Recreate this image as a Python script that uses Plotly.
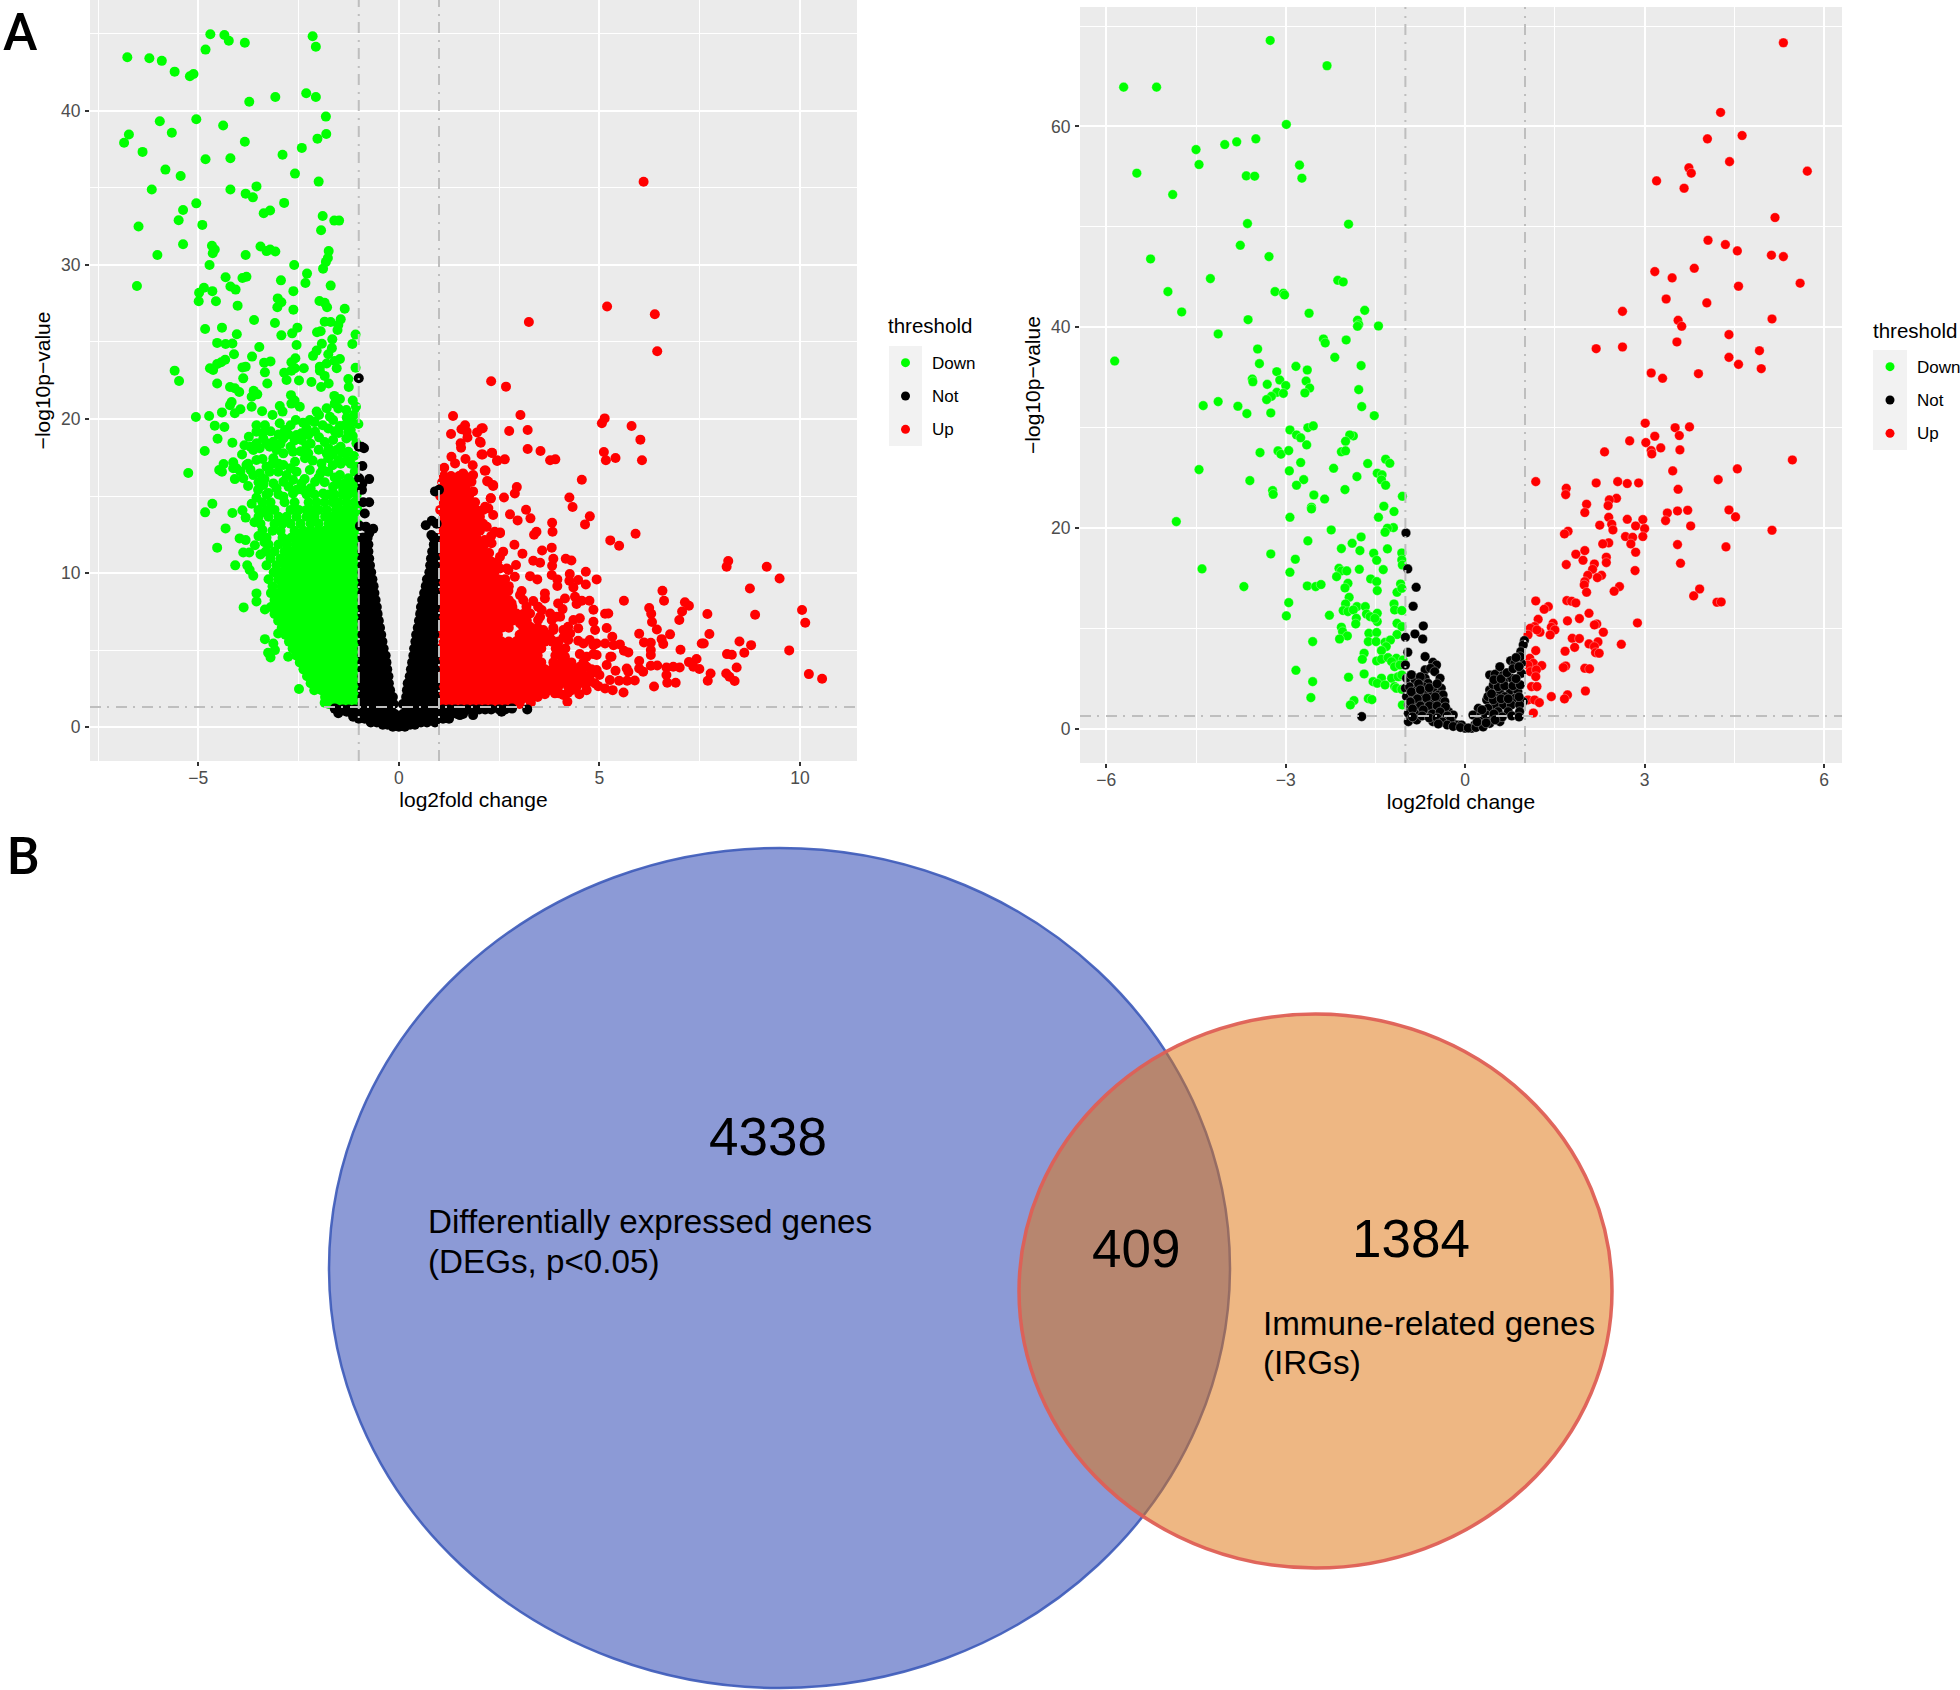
import plotly.graph_objects as go

levels = ["Down", "Not", "Up"]
level_colors = {"Down": "#00FF00", "Not": "#000000", "Up": "#FF0000"}
x_title = "log2fold change"
y_title = "\u2212log10p\u2212value"
legend_title = "threshold"
venn_counts = ["4338", "409", "1384"]
venn_names = [["Differentially expressed genes", "(DEGs, p&lt;0.05)"], ["Immune-related genes", "(IRGs)"]]

# ---------- Panel A: individually readable points (log2FC, -log10p) ----------
a_down = [(-4.70,44.98),(-4.35,44.93),(-4.24,44.55),(-3.84,44.42),(-4.82,43.98),(-6.77,43.48),(-6.22,43.42),(-5.91,43.25),(-5.59,42.55),(-5.21,42.25),(-5.12,42.40),(-2.15,44.85),(-2.07,44.16),(-2.31,41.15),(-2.07,40.9),(-3.08,40.9),(-3.73,40.6),(-1.82,39.63),(-5.05,39.46),(-5.96,39.33),(-4.38,39.05),(-5.66,38.58),(-6.73,38.47),(-1.81,38.5),(-6.85,37.93),(-2.03,38.2),(-3.84,38.0),(-2.42,37.6),(-6.39,37.34),(-2.90,37.15),(-4.82,36.86),(-4.20,36.93),(-5.82,36.19),(-5.44,35.78),(-2.59,35.93),(-2.0,35.41),(-6.16,34.9),(-4.2,34.9),(-3.55,35.1),(-3.82,34.63),(-3.64,34.39),(-5.05,34.0),(-2.86,34.03),(-5.38,33.57),(-3.21,33.53),(-3.37,33.36),(-5.49,32.9),(-1.90,33.18),(-1.61,32.88),(-1.49,32.88),(-6.49,32.5),(-4.9,32.6),(-1.94,32.25),(-5.38,31.34),(-4.66,31.25),(-4.59,31.0),(-3.45,31.2),(-3.3,30.9),(-3.21,31.0),(-3.08,30.87),(-1.75,30.9),(-1.77,30.45),(-1.82,30.2),(-1.89,29.76),(-6.02,30.65),(-4.64,30.76),(-3.82,30.65),(-4.72,30.0),(-2.61,30.0),(-2.29,29.44),(-4.32,29.2),(-3.9,29.15),(-3.8,29.24),(-2.94,29.0),(-2.33,28.83),(-6.53,28.63),(-1.7,28.66),(-4.86,28.52),(-4.2,28.6),(-4.07,28.4),(-4.98,28.2),(-4.65,28.3),(-2.63,28.3),(-3.02,27.83),(-4.99,27.64),(-4.56,27.64),(-2.93,27.58),(-1.98,27.66),(-1.85,27.55),(-4.02,27.36),(-3.03,27.25),(-1.79,27.25),(-2.63,27.1),(-1.35,27.16),(-3.61,26.43),(-1.85,26.32),(-1.7,26.3),(-1.45,26.47),(-3.09,26.23),(-1.51,26.1),(-4.41,25.93),(-4.83,25.84),(-2.53,25.93),(-1.53,25.78),(-2.04,25.63),(-1.95,25.7),(-2.66,25.56),(-4.04,25.5),(-2.93,25.43),(-1.08,25.48),(-1.66,25.17),(-4.53,24.94),(-4.32,24.87),(-4.15,24.9),(-1.92,24.89),(-1.16,24.87),(-2.55,24.8),(-3.48,24.68),(-1.67,24.6),(-2.05,24.44),(-1.76,24.2),(-4.11,24.2),(-3.66,24.05),(-2.14,24.1),(-2.58,23.94),(-4.33,23.85),(-1.47,23.9),(-3.2,23.74),(-4.43,23.68),(-4.53,23.57),(-3.36,23.66),(-2.68,23.68),(-1.6,23.77),(-1.8,23.6),(-3.9,23.35),(-3.82,23.4),(-2.37,23.3),(-1.97,23.4),(-1.55,23.3),(-1.08,23.33),(-4.71,23.3),(-4.63,23.18),(-5.59,23.14),(-3.34,23.03),(-2.86,23.0),(-2.68,23.14),(-1.97,23.14),(-2.59,23.3),(-1.85,22.8),(-5.48,22.47),(-3.88,22.64),(-2.8,22.53),(-1.26,22.6),(-2.49,22.5),(-2.18,22.4),(-4.53,22.3),(-3.28,22.3),(-1.75,22.3),(-4.21,22.08),(-4.09,22.0),(-1.94,22.08),(-1.25,22.08),(-3.98,21.75),(-3.62,21.84),(-3.53,21.6),(-3.67,21.45),(-2.69,21.55),(-1.61,21.5),(-1.47,21.3),(-2.6,21.2),(-4.17,21.1),(-5.06,20.13),(-4.73,20.2),(-4.41,20.43),(-4.21,20.9),(-4.09,20.37),(-3.95,20.63),(-3.67,20.8),(-3.41,20.5),(-3.15,20.26),(-2.97,20.84),(-2.9,20.48),(-2.68,21.0),(-2.47,20.8),(-4.59,19.57),(-4.35,19.48),(-4.52,18.72),(-4.15,18.46),(-3.74,18.85),(-3.55,19.6),(-3.34,19.6),(-3.55,19.18),(-4.84,17.92),(-3.91,17.7),(-4.13,17.19),(-4.37,17.08),(-4.48,16.69),(-4.41,16.58),(-5.25,16.5),(-4.05,16.8),(-3.76,17.1),(-4.09,16.1),(-3.88,16.15),(-3.76,15.65),(-3.51,15.4),(-4.65,14.5),(-4.83,13.94),(-4.15,13.9),(-3.67,14.5),(-3.9,14.07),(-3.82,13.6),(-4.32,12.9),(-3.97,12.25),(-3.82,12.14),(-4.53,11.65),(-3.59,11.8),(-3.88,11.34),(-3.73,11.34),(-4.08,10.5),(-3.78,10.5),(-3.72,10.2),(-3.63,9.83),(-3.55,8.68),(-3.55,8.16),(-3.87,7.77),(-3.34,7.64),(-3.01,6.08),(-3.34,5.71),(-3.13,5.43),(-3.09,5.0),(-3.26,4.83),(-3.2,4.52),(-2.76,4.57),(-2.49,2.47),(-1.85,1.58),
(-2.57,19.94),(-2.39,19.76),(-2.22,19.94),(-2.05,20.48),(-1.99,20.26),(-1.72,20.15),(-1.51,20.69),(-1.31,20.58),(-1.07,20.8),(-1.18,19.83),(-1.01,19.68),(-1.64,19.94),(-2.97,19.72),(-2.84,19.29),(-2.43,19.07),(-2.55,18.96),(-2.26,18.96),(-2.09,19.18),(-1.99,18.81),(-1.76,19.39),(-1.47,19.55),(-1.26,19.18),(-1.31,18.74),(-1.64,18.64),(-2.88,18.74),(-2.43,18.64),(-3.13,18.53),(-3.38,18.74),(-3.55,18.42),(-3.3,18.42),(-3.63,17.99),(-3.47,18.1),(-3.22,18.2),(-3.05,17.99),(-2.88,17.77),(-2.64,17.88),(-2.26,17.77),(-2.34,17.45),(-2.59,17.23),(-1.8,17.77),(-1.55,17.99),(-1.26,17.88),(-1.06,18.42),(-1.93,17.12),(-1.76,17.45),(-1.51,17.34),(-3.55,17.34),(-3.8,17.01),(-3.13,17.45),(-2.88,17.01),(-3.3,16.9),(-4.13,16.8),(-3.63,16.36),(-3.47,16.47),(-3.22,16.58),(-3.01,16.58),(-2.8,16.36),(-2.55,16.58),(-2.22,16.69),(-1.76,16.58),(-1.47,16.36),(-1.26,16.15),(-1.1,16.58),(-1.35,15.82),(-1.14,15.5),(-3.38,15.71),(-3.13,15.82),(-2.88,15.93),(-2.64,16.04),(-2.39,15.39),(-2.09,15.93),(-1.89,15.17),(-1.64,15.61),(-1.39,15.39),(-2.88,14.96),(-2.64,15.17),(-2.43,15.82),(-1.05,16.9),(-1.2,17.1),(-1.1,15.9),(-1.25,15.7),(-1.5,15.8),(-1.6,16.2),(-1.3,17.3),(-1.12,17.6),(-1.4,17.8),(-1.15,18.9),(-1.35,19.6),(-1.2,19.3),(-1.5,19.1),(-1.1,20.3),(-1.3,20.1),(-1.6,21.0),(-1.8,20.7),(-1.15,21.2),
(-2.0,16.2),(-1.9,16.7),(-2.35,16.1),(-2.7,16.8),(-3.0,17.1),(-2.45,17.9),(-2.15,17.3),(-2.0,18.0),(-2.2,18.4),(-2.7,18.2),(-2.95,18.4),(-3.15,17.1),(-3.4,17.4),(-3.35,16.1),(-3.05,15.5),(-2.75,15.6),(-2.55,15.4),(-2.2,15.5),(-3.5,15.9),(-3.25,15.2),(-3.55,14.9),(-3.45,13.9),(-3.6,13.3),(-3.4,12.8),(-3.5,12.4),(-3.35,12.0),(-3.45,11.2),(-1.85,15.9),(-1.95,16.5),(-1.65,17.0),(-1.45,17.1),(-1.65,17.7),(-1.45,18.2),(-1.75,18.1),(-1.85,18.5),(-1.6,19.2),(-2.3,18.3),(-2.6,18.6),(-2.75,19.0),(-3.0,19.0),(-3.2,19.2),(-1.9,19.6),(-2.1,19.8),(-2.3,19.4),(-2.7,19.6),(-3.4,19.1),(-3.7,18.2),(-3.85,18.3),(-3.7,16.7),(-3.95,16.6)]

a_up = [(6.1,35.4),(3.24,26.3),(5.19,27.3),(6.38,26.8),(6.44,24.4),(2.3,22.45),(2.67,22.1),(3.03,20.26),(2.06,19.39),(2.75,19.22),(3.21,19.29),(5.13,20.04),(5.06,19.72),(5.8,19.55),(6.02,18.66),(2.04,18.46),(3.21,18.05),(3.53,17.92),(2.32,17.81),(2.09,17.7),(2.64,17.38),(2.45,17.32),(3.77,17.32),(3.9,17.38),(5.11,17.86),(5.16,17.32),(5.4,17.47),(6.06,17.32),(2.14,16.65),(2.2,15.97),(2.35,15.71),(2.94,15.58),(2.89,15.17),(4.56,16.06),(2.29,14.85),(2.62,14.91),(4.25,14.91),(4.33,14.29),(3.17,14.11),(2.77,13.81),(3.28,13.55),(2.96,13.42),(4.76,13.68),(4.64,13.16),(3.82,13.27),(3.83,12.68),(3.43,12.68),(3.37,12.49),(5.9,12.55),(5.27,12.12),(5.49,11.77),(2.52,12.64),(2.88,11.84),(3.81,11.65),(3.57,11.47),(3.08,11.26),(2.6,11.39),(2.52,11.06),(4.16,10.93),(4.3,10.82),(3.85,10.93),(3.82,10.48),(3.35,10.8),(3.52,10.67),(2.92,10.52),(2.52,10.3),(2.73,10.2),(4.66,10.09),(4.93,9.59),(4.26,9.94),(3.81,9.87),(3.95,9.59),(3.27,9.8),(3.45,9.59),(2.89,9.76),(4.25,9.5),(4.47,9.55),(4.66,9.26),(3.95,9.16),(4.35,9.07),(2.73,8.85),(3.06,8.83),(3.64,8.68),(6.57,8.85),(6.61,8.2),(5.61,8.2),(4.14,8.35),(4.39,8.46),(4.56,8.2),(4.75,8.2),(2.81,8.03),(3.35,8.18),(4.43,7.99),(7.13,8.1),(7.23,7.88),(7.06,7.51),(6.99,6.95),(7.69,7.34),(6.24,7.73),(6.29,7.36),(4.85,7.62),(4.08,7.66),(3.56,7.6),(5.14,7.36),(5.22,7.38),(6.31,6.82),(4.85,6.84),(4.51,7.06),(4.35,6.95),(3.93,7.16),(3.47,6.95),(2.89,7.06),(6.43,6.34),(4.89,6.3),(5.18,6.43),(4.22,6.52),(4.47,6.41),(5.99,6.06),(6.76,6.02),(7.74,6.04),(5.32,5.87),(4.1,5.82),(6.55,5.71),(6.59,5.39),(6.11,5.5),(6.28,5.48),(7.55,5.43),(7.6,5.43),(4.76,5.65),(4.47,5.61),(8.49,5.56),(8.78,5.32),(5.51,5.37),(4.93,5.43),(7.02,5.02),(6.28,5.0),(5.61,4.96),(5.72,4.85),(8.18,4.74),(8.3,4.7),(8.61,4.83),(4.51,4.74),(4.85,4.74),(5.3,4.57),(6.28,4.68),(7.42,4.42),(7.23,4.22),(5.99,4.29),(7.34,3.92),(6.28,3.98),(6.44,4.0),(6.67,3.87),(6.84,3.92),(7.0,3.87),(8.42,3.87),(7.49,3.77),(5.99,3.81),(5.68,3.81),(5.4,3.66),(5.72,3.59),(6.09,3.6),(7.77,3.48),(8.16,3.48),(10.22,3.44),(10.55,3.14),(6.67,3.38),(7.7,3.01),(8.24,3.27),(8.37,2.99),(6.9,2.88),(6.69,2.88),(5.88,3.03),(5.69,3.01),(5.49,3.01),(5.26,3.05),(6.36,2.64),(5.6,2.25),(5.33,2.4),(5.14,2.51),(4.97,2.66),(4.68,2.4),(4.5,2.14),(4.2,1.65),(3.29,1.58),(3.64,2.14),(4.0,2.19),(4.22,2.23),(3.0,1.65),(9.17,10.41),(8.21,10.78),(8.17,10.41),(9.49,9.65),(8.75,9.0),(8.88,7.29),(10.05,7.6),(10.13,6.77),(9.73,4.98),(1.35,20.2),(1.65,19.6),(1.56,19.33),(1.3,19.03),(1.69,19.18),(1.71,18.8),(2.09,19.4),(1.95,19.13),(2.02,18.53),(1.54,18.42),(1.55,18.14),(2.06,17.7),(2.32,17.8),(1.31,17.55),(1.66,17.4),(2.45,17.27),(1.13,16.84),(1.4,17.12),(1.84,17.0),(2.16,16.65),(1.6,16.47),(1.85,16.36),(1.81,15.93),(2.23,15.93),(2.35,15.65),(2.29,14.85),(2.3,12.4),(2.15,11.9),(2.25,11.3),(2.45,10.7),(2.1,13.2),(2.0,13.7),(2.15,14.3),(1.9,14.6),(1.85,15.3),
(2.1,14.1),(2.23,14.2),(2.35,13.77),(2.19,13.0),(2.39,12.68),(2.52,12.58),(2.14,12.14),(2.31,11.93),(2.02,11.39),(2.23,11.28),(2.31,10.74),(2.1,10.41),(2.39,10.19),(2.56,9.55),(2.27,9.76),(2.69,10.3),(2.1,9.11),(2.35,8.9),(2.52,8.46),(2.73,8.03),(2.19,8.25),(2.39,7.81),(2.6,7.38),(2.93,7.38),(3.1,8.25),(3.18,7.81),(3.27,7.38),(3.47,7.81),(3.52,7.16),(3.02,8.57),(3.64,8.35),(3.77,7.38),(3.97,8.03),(3.81,6.95),(4.02,7.16),(3.02,6.73),(3.27,6.52),(3.6,6.3),(3.85,6.3),(4.1,6.3),(4.27,6.08),(2.98,5.65),(3.27,5.65),(3.52,5.87),(3.81,5.65),(3.97,5.22),(4.22,5.65),(4.6,5.43),(4.85,5.32),(5.14,5.43),(5.35,5.32),(5.27,4.57),(4.93,4.68),(4.68,4.57),(4.14,4.57),(4.02,4.13),(4.18,3.92),(4.51,3.92),(4.68,3.92),(4.93,3.7),(5.18,4.03),(4.35,3.48),(4.6,3.38),(4.8,3.48),(5.0,3.38),(4.26,3.05),(4.51,2.94),(4.76,3.05),(4.0,2.73),(4.22,2.62),(4.43,2.62),(4.68,2.84),(4.89,2.84),(3.89,2.19),(4.1,2.08),(3.43,2.08),(3.1,1.86)]

a_not = [(-1.0,22.65),(-0.93,18.2),(-0.87,18.1),(-1.0,18.2),(-0.91,16.95),(-0.99,16.15),(-0.74,16.1),(-0.91,15.8),(-0.92,15.4),(-0.74,14.6),(-0.89,14.6),(-0.85,13.87),(-0.82,13.0),(-0.64,12.88),(-0.97,13.05),(-0.74,12.58),(1.0,15.4),(0.9,15.3),(0.82,13.4),(0.67,13.1),(0.94,13.2),(0.81,12.47),(0.9,11.9),(-1.6,1.2),(-1.51,0.9),(-1.3,1.0),(-1.14,0.67),(1.52,0.78),(1.85,0.78),(2.56,1.0),(2.82,1.2),(3.2,1.15)]

# Panel A: the solid masses, read row by row (row height in -log10p : log2FC readings)
a_down_rows = {
1.5:[-1.03,-1.21,-1.39,-1.57,-1.75],
1.95:[-1.12,-1.3,-1.48,-1.66,-1.84],
2.4:[-1.03,-1.21,-1.39,-1.57,-1.75,-1.93,-2.11],
2.85:[-1.12,-1.3,-1.48,-1.66,-1.84,-2.02,-2.2],
3.3:[-1.03,-1.21,-1.39,-1.57,-1.75,-1.93,-2.11,-2.29],
3.75:[-1.12,-1.3,-1.48,-1.66,-1.84,-2.02,-2.2,-2.38],
4.2:[-1.03,-1.21,-1.39,-1.57,-1.75,-1.93,-2.11,-2.29,-2.47],
4.65:[-1.12,-1.3,-1.48,-1.66,-1.84,-2.02,-2.2,-2.38,-2.56],
5.1:[-1.03,-1.21,-1.39,-1.57,-1.75,-1.93,-2.11,-2.29,-2.47,-2.65],
5.55:[-1.12,-1.3,-1.48,-1.66,-1.84,-2.02,-2.2,-2.38,-2.56,-2.74],
6.0:[-1.03,-1.21,-1.39,-1.57,-1.75,-1.93,-2.11,-2.29,-2.47,-2.65,-2.83],
6.45:[-1.12,-1.3,-1.48,-1.66,-1.84,-2.02,-2.2,-2.38,-2.56,-2.74,-2.92],
6.9:[-1.03,-1.21,-1.39,-1.57,-1.75,-1.93,-2.11,-2.29,-2.47,-2.65,-2.83,-3.01],
7.35:[-1.12,-1.3,-1.48,-1.66,-1.84,-2.02,-2.2,-2.38,-2.56,-2.74,-2.92,-3.1],
7.8:[-1.03,-1.21,-1.39,-1.57,-1.75,-1.93,-2.11,-2.29,-2.47,-2.65,-2.83,-3.01,-3.19],
8.25:[-1.12,-1.3,-1.48,-1.66,-1.84,-2.02,-2.2,-2.38,-2.56,-2.74,-2.92,-3.1],
8.7:[-1.03,-1.21,-1.39,-1.57,-1.75,-1.93,-2.11,-2.29,-2.47,-2.65,-2.83,-3.01,-3.19],
9.15:[-1.12,-1.3,-1.48,-1.66,-1.84,-2.02,-2.2,-2.38,-2.56,-2.74,-2.92,-3.15],
9.6:[-1.03,-1.21,-1.39,-1.57,-1.75,-1.93,-2.11,-2.29,-2.47,-2.65,-2.83,-3.01,-3.25],
10.05:[-1.12,-1.3,-1.48,-1.66,-1.84,-2.02,-2.2,-2.38,-2.56,-2.74,-2.92,-3.12],
10.5:[-1.03,-1.21,-1.39,-1.57,-1.75,-1.93,-2.11,-2.29,-2.47,-2.65,-2.83,-3.05,-3.3],
10.95:[-1.12,-1.3,-1.48,-1.66,-1.84,-2.02,-2.2,-2.38,-2.56,-2.74,-2.95,-3.2],
11.4:[-1.03,-1.21,-1.39,-1.57,-1.75,-1.93,-2.11,-2.29,-2.47,-2.65,-2.85,-3.1,-3.32],
11.85:[-1.12,-1.3,-1.48,-1.66,-1.84,-2.02,-2.2,-2.38,-2.56,-2.78,-3.0,-3.25],
12.3:[-1.03,-1.21,-1.39,-1.57,-1.75,-1.93,-2.11,-2.29,-2.47,-2.68,-2.9,-3.3],
12.75:[-1.12,-1.3,-1.48,-1.66,-1.84,-2.02,-2.2,-2.38,-2.6,-2.95,-3.15],
13.2:[-1.03,-1.21,-1.39,-1.57,-1.75,-2.0,-2.2,-2.45,-2.7,-2.9,-3.1,-3.45],
13.65:[-1.12,-1.3,-1.48,-1.66,-1.84,-2.1,-2.3,-2.55,-2.8,-3.0,-3.25,-3.5],
14.1:[-1.03,-1.21,-1.39,-1.57,-1.8,-2.0,-2.15,-2.3,-2.5,-2.7,-3.1,-3.3,-3.5],
14.6:[-1.1,-1.3,-1.5,-1.65,-1.85,-2.05,-2.25,-2.6,-2.85,-3.2,-3.4],
15.1:[-1.05,-1.25,-1.4,-1.6,-1.75,-2.1,-2.3,-3.0,-3.3],
}
a_up_rows = {
1.5:[1.03,1.21,1.39,1.57,1.75,1.93,2.11,2.29,2.47,2.65,2.83,3.01],
1.95:[1.12,1.3,1.48,1.66,1.84,2.02,2.2,2.38,2.56,2.74,2.92,3.1,3.28,3.46],
2.4:[1.03,1.21,1.39,1.57,1.75,1.93,2.11,2.29,2.47,2.65,2.83,3.01,3.19,3.37,3.55,3.73,3.91,4.3],
2.85:[1.12,1.3,1.48,1.66,1.84,2.02,2.2,2.38,2.56,2.74,2.92,3.1,3.28,3.46,3.64,3.82,4.0,4.18,4.36,4.6],
3.3:[1.03,1.21,1.39,1.57,1.75,1.93,2.11,2.29,2.47,2.65,2.83,3.01,3.19,3.37,3.55,3.73,3.91,4.09,4.27,4.45,4.7],
3.75:[1.12,1.3,1.48,1.66,1.84,2.02,2.2,2.38,2.56,2.74,2.92,3.1,3.28,3.46,3.64,3.82,4.0,4.18,4.36,4.55,4.8],
4.2:[1.03,1.21,1.39,1.57,1.75,1.93,2.11,2.29,2.47,2.65,2.83,3.01,3.19,3.37,3.55,3.85,4.09,4.3,4.6],
4.65:[1.12,1.3,1.48,1.66,1.84,2.02,2.2,2.38,2.56,2.74,2.92,3.1,3.28,3.46,3.9,4.05],
5.1:[1.03,1.21,1.39,1.57,1.75,1.93,2.11,2.29,2.47,2.65,2.83,3.01,3.19,3.37,3.55,3.91,4.15],
5.55:[1.12,1.3,1.48,1.66,1.84,2.02,2.2,2.38,2.56,2.74,2.92,3.1,3.28,3.46,3.64,3.82,3.98],
6.0:[1.03,1.21,1.39,1.57,1.75,1.93,2.11,2.29,2.47,3.01,3.19,3.37,3.55,3.75],
6.45:[1.12,1.3,1.48,1.66,1.84,2.02,2.2,2.38,2.56,2.74,3.1,3.28,3.46,3.85],
6.9:[1.03,1.21,1.39,1.57,1.75,1.93,2.11,2.29,2.47,2.65,2.83,3.01,3.19],
7.35:[1.12,1.3,1.48,1.66,1.84,2.02,2.2,2.38,2.56,2.74,2.92,3.1],
7.8:[1.03,1.21,1.39,1.57,1.75,1.93,2.11,2.29,2.47,2.65,2.83],
8.25:[1.12,1.3,1.48,1.66,1.84,2.02,2.2,2.38,2.56,2.74],
8.7:[1.03,1.21,1.39,1.57,1.75,1.93,2.11,2.29,2.47,2.65],
9.15:[1.12,1.3,1.48,1.66,1.84,2.02,2.2,2.38,2.56,2.74],
9.6:[1.03,1.21,1.39,1.57,1.75,1.93,2.11,2.29,2.47,2.65],
10.05:[1.12,1.3,1.48,1.66,1.84,2.02,2.2,2.38],
10.5:[1.03,1.21,1.39,1.57,1.75,1.93,2.11,2.29],
10.95:[1.12,1.3,1.48,1.66,1.84,2.02,2.2],
11.4:[1.03,1.21,1.39,1.57,1.75,1.93,2.11],
11.85:[1.12,1.3,1.48,1.66,1.84,2.02],
12.3:[1.03,1.21,1.39,1.57,1.75,1.93],
12.75:[1.12,1.3,1.48,1.66,1.84,2.02],
13.2:[1.03,1.21,1.39,1.57,1.75,1.93],
13.65:[1.12,1.3,1.48,1.66,1.84,2.02],
14.1:[1.03,1.21,1.39,1.57,1.75,1.93],
14.55:[1.12,1.3,1.48,1.66,1.84],
15.0:[1.03,1.21,1.39,1.57,1.75],
15.45:[1.12,1.3,1.48,1.66],
15.9:[1.08,1.24,1.39,1.57,1.75],
16.3:[1.12,1.3,1.5,1.65],
}
a_not_rows = {
0.03:[-0.15,0.0,0.15],
0.15:[-0.4,-0.28,0.28,0.4],
0.3:[-0.7,-0.55,-0.4,-0.2,0.2,0.4,0.55,0.7,0.9],
0.55:[-1.0,-0.85,-0.7,-0.55,-0.4,-0.25,-0.1,0.05,0.2,0.35,0.5,0.65,0.8,0.95,1.1,1.25],
0.85:[-1.15,-1.0,-0.85,-0.7,-0.55,-0.4,-0.25,-0.1,0.1,0.25,0.4,0.55,0.7,0.85,1.0,1.15,1.3,1.45,1.6],
1.15:[-1.55,-1.4,-1.25,-1.1,-0.95,-0.8,-0.65,-0.5,-0.35,-0.2,0.2,0.35,0.5,0.65,0.8,0.95,1.1,1.25,1.4,1.55,1.7,1.85,2.0,2.15,2.3,2.5,2.65],
1.5:[-0.91,-0.82,-0.67,-0.52,-0.37,-0.22,-0.13,0.1,0.24,0.39,0.54,0.69,0.84,0.9],
1.95:[-0.91,-0.85,-0.7,-0.55,-0.4,-0.25,-0.15,0.18,0.32,0.47,0.62,0.77,0.9],
2.4:[-0.91,-0.82,-0.67,-0.52,-0.37,-0.22,0.2,0.35,0.5,0.65,0.8,0.9],
2.85:[-0.91,-0.85,-0.7,-0.55,-0.4,-0.25,0.22,0.38,0.53,0.68,0.83,0.9],
3.3:[-0.91,-0.82,-0.67,-0.52,-0.37,-0.26,0.27,0.42,0.57,0.72,0.87],
3.75:[-0.91,-0.85,-0.7,-0.55,-0.4,-0.29,0.3,0.45,0.6,0.75,0.9],
4.2:[-0.91,-0.82,-0.67,-0.52,-0.37,-0.31,0.33,0.48,0.63,0.78,0.9],
4.65:[-0.91,-0.85,-0.7,-0.55,-0.4,-0.33,0.36,0.51,0.66,0.81,0.9],
5.1:[-0.91,-0.82,-0.67,-0.52,-0.38,0.38,0.53,0.68,0.83,0.9],
5.55:[-0.91,-0.85,-0.7,-0.55,-0.41,0.41,0.56,0.71,0.86],
6.0:[-0.91,-0.82,-0.67,-0.52,-0.44,0.43,0.58,0.73,0.88],
6.45:[-0.91,-0.85,-0.7,-0.55,-0.47,0.47,0.62,0.77,0.9],
6.9:[-0.91,-0.82,-0.67,-0.5,0.5,0.65,0.8,0.9],
7.35:[-0.91,-0.85,-0.7,-0.53,0.53,0.68,0.83,0.9],
7.8:[-0.91,-0.82,-0.67,-0.55,0.55,0.7,0.85,0.9],
8.25:[-0.91,-0.85,-0.7,-0.58,0.58,0.73,0.88],
8.7:[-0.91,-0.82,-0.67,-0.61,0.63,0.78,0.9],
9.15:[-0.91,-0.84,-0.68,-0.63,0.67,0.82,0.9],
9.6:[-0.91,-0.83,-0.66,0.7,0.85,0.9],
10.05:[-0.91,-0.85,-0.69,0.76,0.9],
10.5:[-0.91,-0.85,-0.72,0.78,0.9],
10.95:[-0.91,-0.88,-0.74,0.8,0.9],
11.4:[-0.91,-0.85,-0.76,0.83,0.9],
11.85:[-0.91,-0.88,-0.76,0.87,0.9],
12.3:[-0.91,-0.88,-0.78,0.86,0.9],
}

# ---------- Panel B (right volcano) ----------
b_down = [(-3.26,68.57),(-2.31,66.05),(-5.71,63.92),(-5.16,63.92),(-2.99,60.2),(-3.5,58.77),(-3.82,58.47),(-4.02,58.2),(-4.5,57.7),(-4.45,56.21),(-2.77,56.15),(-5.49,55.35),(-3.66,55.08),(-3.52,55.05),(-2.73,54.85),(-4.89,53.22),(-3.64,50.33),(-1.95,50.27),(-3.76,48.17),(-3.28,47.04),(-5.26,46.81),(-4.26,44.85),(-2.13,44.68),(-2.04,44.52),(-4.97,43.55),(-3.18,43.55),(-3.04,43.39),(-3.02,43.22),(-4.74,41.53),(-2.61,41.4),(-1.68,41.69),(-3.63,40.76),(-1.8,40.7),(-1.78,40.27),(-1.8,40.1),(-1.45,40.13),(-4.13,39.34),(-2.37,38.84),(-2.34,38.44),(-1.99,38.74),(-3.47,37.84),(-2.18,37.01),(-3.44,36.38),(-5.86,36.64),(-1.74,36.18),(-2.83,36.11),(-2.64,35.75),(-3.15,35.58),(-3.1,34.75),(-3.56,34.85),(-3.55,34.58),(-2.66,34.65),(-3.31,34.32),(-3.0,34.19),(-2.6,33.95),(-1.78,33.79),(-2.68,33.46),(-3.15,33.52),(-3.04,33.42),(-3.24,33.12),(-3.32,32.8),(-4.13,32.6),(-4.38,32.2),(-3.8,32.14),(-3.65,31.4),(-3.25,31.47),(-1.73,32.1),(-1.52,31.2),(-2.93,29.78),(-2.63,30.0),(-2.54,30.18),(-2.82,29.28),(-2.75,29.0),(-1.87,29.18),(-1.93,29.28),(-2.0,28.65),(-2.65,28.29),(-3.43,27.52),(-3.13,27.69),(-3.08,27.36),(-2.95,27.72),(-2.07,27.6),(-2.0,27.7),(-2.75,26.53),(-1.63,26.43),(-1.33,26.86),(-1.26,26.46),(-4.45,25.83),(-2.2,25.96),(-2.94,25.7),(-1.47,25.47),(-1.39,25.3),(-1.81,25.13),(-2.7,24.83),(-3.6,24.73),(-1.4,24.8),(-1.33,24.27),(-2.82,24.27),(-2.01,23.84),(-3.22,23.74),(-3.21,23.37),(-2.53,23.3),(-1.05,23.17),(-2.35,22.9),(-2.57,22.08),(-2.57,21.91),(-1.36,22.18),(-1.19,21.65),(-1.45,21.08),(-2.93,21.08),(-4.83,20.65),(-1.2,20.05),(-1.3,19.99),(-1.34,19.59),(-2.24,19.82),(-1.74,19.12),(-2.63,18.73),(-1.89,18.49),(-1.3,17.93),(-2.07,17.96),(-1.76,17.76),(-1.06,17.53),(-1.53,17.5),(-3.25,17.43),(-2.84,16.9),(-1.48,16.8),(-1.06,16.83),(-1.05,16.33),(-4.4,15.94),(-2.11,16.0),(-2.07,15.74),(-1.98,15.74),(-1.77,15.9),(-1.37,15.87),(-2.93,15.6),(-2.15,15.17),(-1.58,14.94),(-1.48,14.67),(-1.96,14.5),(-2.01,14.04),(-3.7,14.18),(-2.64,14.24),(-2.5,14.18),(-2.41,14.38),(-1.08,14.44),(-1.47,13.78),(-1.14,13.61),(-1.06,14.01),(-1.94,13.11),(-2.0,12.45),(-2.95,12.58),(-1.19,12.45),(-1.81,12.18),(-1.67,12.18),(-1.18,11.85),(-1.06,11.79),(-2.04,11.79),(-1.96,11.69),(-1.87,11.85),(-1.47,11.52),(-1.65,11.45),(-2.99,11.26),(-2.27,11.32),(-1.59,11.19),(-1.82,11.02),(-1.47,10.69),(-1.51,11.02),(-1.14,10.52),(-1.06,10.19),(-1.83,10.46),(-2.07,10.13),(-2.05,9.69),(-1.61,9.53),(-1.48,9.6),(-1.97,9.26),(-2.1,8.96),(-1.14,9.4),(-2.55,8.7),(-1.62,8.7),(-1.49,8.7),(-1.34,8.63),(-1.25,8.86),(-1.32,8.2),(-1.4,7.8),(-1.69,7.54),(-1.72,6.94),(-1.48,6.77),(-1.4,6.94),(-1.29,7.1),(-1.15,7.04),(-1.04,6.87),(-1.23,6.7),(-1.18,6.2),(-1.09,6.37),(-2.83,5.84),(-1.69,5.48),(-1.95,5.15),(-1.4,5.05),(-1.23,5.05),(-1.12,5.2),(-1.06,5.38),(-2.55,4.71),(-1.54,4.71),(-1.47,4.55),(-1.34,4.38),(-1.18,4.22),(-1.15,4.05),(-1.06,3.95),(-2.58,3.12),(-1.62,3.02),(-1.56,2.92),(-1.86,2.82),(-1.92,2.39),(-1.05,2.39)]

b_up = [(5.32,68.34),(4.27,61.4),(4.05,58.77),(4.63,59.1),(4.42,56.5),(3.74,55.88),(3.78,55.35),(5.72,55.55),(3.2,54.58),(3.66,53.85),(5.18,50.93),(4.06,48.67),(4.35,48.24),(4.55,47.61),(5.12,47.18),(5.32,47.04),(3.83,45.88),(3.17,45.55),(3.46,44.92),(4.57,44.09),(5.6,44.39),(3.36,42.82),(4.04,42.43),(2.63,41.59),(3.56,40.7),(3.62,40.1),(5.13,40.83),(4.41,39.27),(3.54,38.54),(2.63,38.04),(2.19,37.87),(4.92,37.67),(4.41,37.01),(4.57,36.31),(4.95,35.88),(3.11,35.45),(3.3,34.92),(3.9,35.38),(3.01,30.45),(3.51,30.0),(3.75,30.08),(2.75,28.69),(3.17,29.15),(3.58,29.22),(3.02,28.52),(3.27,27.99),(3.11,27.72),(3.12,27.39),(3.59,27.79),(2.33,27.59),(5.47,26.79),(4.55,25.9),(3.47,25.7),(4.23,24.83),(1.18,24.63),(2.19,24.5),(2.55,24.63),(2.71,24.44),(2.9,24.5),(1.69,23.97),(1.68,23.34),(3.56,23.87),(2.53,22.97),(2.41,22.81),(2.39,22.24),(2.03,22.38),(2.0,21.55),(4.41,21.81),(4.52,21.12),(3.72,21.78),(3.55,21.71),(3.38,21.51),(3.35,20.75),(2.4,21.08),(2.71,20.88),(2.97,20.85),(2.45,20.39),(2.47,19.82),(2.25,20.29),(2.85,20.22),(3.0,19.95),(3.77,20.22),(5.13,19.79),(1.72,19.69),(1.66,19.42),(2.68,19.16),(2.8,19.09),(2.97,19.16),(2.4,18.53),(2.3,18.43),(2.77,18.43),(3.55,18.36),(4.36,18.13),(2.0,17.76),(1.85,17.4),(2.85,17.6),(1.97,16.8),(2.36,17.1),(2.36,16.57),(1.69,16.37),(2.16,16.43),(3.6,16.5),(2.13,15.9),(2.84,15.77),(2.05,15.3),(2.28,15.3),(2.21,15.07),(2.0,14.67),(1.99,14.34),(2.03,13.61),(2.58,14.18),(2.49,13.71),(3.92,13.94),(3.82,13.25),(4.21,12.62),(4.28,12.65),(1.18,12.75),(1.7,12.78),(1.78,12.72),(1.85,12.55),(1.39,12.18),(1.32,11.92),(2.07,11.52),(1.22,10.92),(1.91,10.99),(1.71,10.76),(2.88,10.56),(1.47,10.52),(1.44,10.13),(1.5,9.86),(1.42,9.36),(2.2,10.46),(2.16,10.36),(2.31,9.63),(1.16,10.19),(1.09,10.03),(1.05,9.36),(1.25,9.63),(1.2,9.86),(1.79,9.03),(1.91,9.0),(2.22,8.67),(2.07,8.47),(2.61,8.43),(1.83,8.13),(2.16,8.2),(2.18,7.6),(2.24,7.54),(1.67,7.74),(1.18,7.8),(1.08,7.04),(1.14,6.54),(1.28,6.31),(1.05,6.37),(1.09,5.71),(1.19,5.88),(1.68,6.27),(1.64,6.11),(2.0,6.04),(2.08,5.98),(1.18,5.21),(1.11,4.22),(1.2,4.22),(2.01,3.78),(1.44,3.22),(1.71,3.39),(1.66,2.99),(1.05,2.89),(1.16,2.89),(1.24,2.62),(1.14,1.59)]

b_not = [(-0.99,19.52),(-0.96,15.94),(-0.82,14.11),(-0.87,12.22),(-0.7,10.26),(-0.84,9.46),(-0.71,8.96),(-1.0,9.13),(-0.96,7.64),(-0.67,7.2),(-1.0,6.37),(-0.54,6.64),(-0.48,6.37),(-0.67,5.88),(-0.58,6.04),(-0.51,5.71),(-0.42,5.05),(-0.98,5.05),(-0.84,4.88),(-0.67,5.05),(-0.62,4.55),(-1.0,4.05),(-0.4,4.05),(-0.93,4.2),(-0.81,3.88),(-0.7,4.2),(-0.54,3.88),(-0.98,3.22),(-0.87,3.39),(-0.73,3.55),(-0.62,3.55),(-0.45,3.39),(-0.37,3.39),(-0.95,2.39),(-0.84,2.72),(-0.67,2.72),(-0.54,2.89),(-0.42,2.72),(-0.34,2.72),(-0.95,1.56),(-0.81,1.73),(-0.62,1.73),(-0.48,1.89),(-0.37,2.06),(-0.28,1.73),(-0.95,0.73),(-0.81,0.9),(-0.54,0.73),(-0.4,1.39),(-0.2,1.39),(-1.73,1.23),(-0.31,1.06),(-0.2,0.56),(-0.12,0.4),(0.0,0.07),(0.08,0.07),(0.16,0.4),(0.25,0.73),(0.33,0.9),(0.22,2.06),(0.36,2.89),(0.41,3.88),(0.41,5.38),(0.99,8.8),(0.97,8.37),(0.93,7.7),(0.76,6.8),(0.94,6.54),(0.83,6.54),(0.57,5.71),(0.5,5.45),(0.64,5.38),(0.94,5.54),(0.77,5.05),(0.64,4.71),(0.47,4.38),(0.58,3.72),(0.75,3.82),(0.88,3.72),(0.38,3.22),(0.52,3.05),(0.66,3.22),(0.83,3.05),(0.97,2.72),(0.5,2.39),(0.64,2.39),(0.77,2.39),(0.91,2.39),(0.38,2.06),(0.55,1.73),(0.72,1.73),(0.91,1.73),(0.13,1.39),(0.27,1.39),(0.41,1.06),(0.58,0.73),(0.41,0.56),(0.25,0.4),(0.11,0.07),(-0.06,0.4),
(-0.9,5.4),(-0.75,5.2),(-0.78,4.5),(-0.9,3.7),(-0.75,3.9),(-0.6,4.1),(-0.47,4.5),(-0.5,3.2),(-0.65,3.1),(-0.8,3.0),(-0.92,2.7),(-0.75,2.3),(-0.6,2.3),(-0.47,2.3),(-0.33,2.2),(-0.88,2.0),(-0.7,1.9),(-0.55,1.5),(-0.42,1.7),(-0.3,1.3),(-0.72,1.3),(-0.88,1.2),(-0.6,1.1),(-0.47,1.1),(-0.25,0.9),(-0.38,0.7),(-0.3,0.4),(-0.45,0.5),(-0.2,0.25),(-0.08,0.15),(0.05,0.1),(0.18,0.15),(0.3,0.2),(0.2,0.7),(0.35,1.4),(0.28,1.9),(0.48,1.5),(0.62,1.2),(0.78,1.3),(0.9,1.2),(0.5,0.9),(0.35,0.6),(0.47,2.9),(0.6,3.0),(0.72,3.0),(0.9,3.2),(0.44,3.5),(0.55,4.2),(0.66,4.3),(0.8,4.3),(0.92,4.4),(0.48,4.9),(0.6,5.0),(0.85,5.0),(0.7,5.6),(0.58,6.2),(0.8,6.0),(0.92,7.2),(0.85,7.1),(0.9,6.2)]


def with_rows(points, rows):
    xs = [p[0] for p in points]
    ys = [p[1] for p in points]
    for row_y, row_xs in rows.items():
        for v in row_xs:
            xs.append(v)
            ys.append(row_y)
    return xs, ys


W, H = 1960, 1690
def fx(px): return px / W
def fy(py): return 1 - py / H

GRID = "#FFFFFF"
TICK_FONT = dict(family="Liberation Sans", size=17.5, color="#4D4D4D")
TITLE_FONT = dict(family="Liberation Sans", size=21, color="#000000")
LEG_FONT = dict(family="Liberation Sans", size=17, color="#000000")

fig = go.Figure()

a_sets = {"Down": with_rows(a_down, a_down_rows), "Up": with_rows(a_up, a_up_rows), "Not": with_rows(a_not, a_not_rows)}
b_sets = {"Down": with_rows(b_down, {}), "Up": with_rows(b_up, {}), "Not": with_rows(b_not, {})}

for name in ["Down", "Up", "Not"]:
    xs, ys = a_sets[name]
    fig.add_trace(go.Scatter(x=xs, y=ys, mode="markers", xaxis="x", yaxis="y", name=name, showlegend=False,
                             marker=dict(size=10, color=level_colors[name], line=dict(width=0))))
for name in ["Down", "Up", "Not"]:
    xs, ys = b_sets[name]
    fig.add_trace(go.Scatter(x=xs, y=ys, mode="markers", xaxis="x2", yaxis="y2", name=name, showlegend=False,
                             marker=dict(size=9.6, color=level_colors[name], line=dict(width=1, color="rgba(255,255,255,0.3)"))))

# legends drawn as small category axes
for xa, ya in (("x3", "y3"), ("x4", "y4")):
    for name in levels:
        fig.add_trace(go.Scatter(x=[0], y=[name], mode="markers", xaxis=xa, yaxis=ya, showlegend=False,
                                 marker=dict(size=9, color=level_colors[name])))

def volcano_axes(xdom, ydom, xr, yr, xt, yt, xm, ym):
    xa = dict(domain=[fx(xdom[0]), fx(xdom[1])], range=xr, tickvals=xt, zeroline=False, showline=False,
              showgrid=True, gridcolor=GRID, gridwidth=2, ticks="outside", ticklen=4, tickwidth=1.5, tickcolor="#333333",
              tickfont=TICK_FONT, ticklabelstandoff=-3,
              minor=dict(tickvals=xm, showgrid=True, gridcolor=GRID, gridwidth=1.2, ticks=""),
              title=dict(text=x_title, font=TITLE_FONT, standoff=3))
    ya = dict(domain=[fy(ydom[1]), fy(ydom[0])], range=yr, tickvals=yt, zeroline=False, showline=False,
              showgrid=True, gridcolor=GRID, gridwidth=2, ticks="outside", ticklen=4, tickwidth=1.5, tickcolor="#333333",
              tickfont=TICK_FONT, ticklabelstandoff=1,
              minor=dict(tickvals=ym, showgrid=True, gridcolor=GRID, gridwidth=1.2, ticks=""),
              title=dict(text=y_title, font=TITLE_FONT, standoff=4))
    return xa, ya

xa1, ya1 = volcano_axes((90, 857), (0, 761), [-7.7, 11.42], [-2.2, 47.2], [-5, 0, 5, 10], [0, 10, 20, 30, 40],
                        [-7.5, -2.5, 2.5, 7.5], [5, 15, 25, 35, 45])
xa2, ya2 = volcano_axes((1080, 1842), (7, 763), [-6.44, 6.30], [-3.39, 71.9], [-6, -3, 0, 3, 6], [0, 20, 40, 60],
                        [-4.5, -1.5, 1.5, 4.5], [10, 30, 50, 70])
xa1["anchor"] = "y"; ya1["anchor"] = "x"
xa2["anchor"] = "y2"; ya2["anchor"] = "x2"

def legend_axes(xa_anchor, ya_anchor, xdom, ydom):
    xa = dict(domain=[fx(xdom[0]), fx(xdom[1])], range=[-1, 1], visible=False, anchor=ya_anchor, fixedrange=True)
    ya = dict(domain=[fy(ydom[1]), fy(ydom[0])], type="category", categoryorder="array", categoryarray=levels[::-1],
              range=[-0.5, 2.5], side="right", anchor=xa_anchor, showgrid=False, zeroline=False, showline=False,
              ticks="", tickfont=LEG_FONT, ticklabelstandoff=9, fixedrange=True)
    return xa, ya

xa3, ya3 = legend_axes("x3", "y3", (889, 922), (346, 446))
xa4, ya4 = legend_axes("x4", "y4", (1873, 1907), (350, 450))

def rect(x0, y0, x1, y1, color):
    return dict(type="rect", xref="paper", yref="paper", x0=fx(x0), x1=fx(x1), y0=fy(y1), y1=fy(y0),
                fillcolor=color, line=dict(width=0), layer="below")

def vref(axx, axy, v):
    return dict(type="line", xref=axx, yref=axy + " domain", x0=v, x1=v, y0=0, y1=1,
                line=dict(color="#BEBEBE", width=2, dash="11px,6px,2px,7px"), layer="above")

def href(axx, axy, v):
    return dict(type="line", xref=axx + " domain", yref=axy, x0=0, x1=1, y0=v, y1=v,
                line=dict(color="#BEBEBE", width=2, dash="11px,6px,2px,7px"), layer="above")

def ellipse(x0, y0, x1, y1, fill, line, lw):
    return dict(type="circle", xref="paper", yref="paper", x0=fx(x0), x1=fx(x1), y0=fy(y1), y1=fy(y0),
                fillcolor=fill, line=dict(color=line, width=lw), layer="above")

shapes = [
    rect(90, 0, 857, 761, "#EBEBEB"),
    rect(1080, 7, 1842, 763, "#EBEBEB"),
    rect(889, 346, 922, 446, "#F2F2F2"),
    rect(1873, 350, 1907, 450, "#F2F2F2"),
    vref("x", "y", -1), vref("x", "y", 1), href("x", "y", 1.3),
    vref("x2", "y2", -1), vref("x2", "y2", 1), href("x2", "y2", 1.3),
    ellipse(329, 848, 1230, 1688, "rgba(30,57,175,0.51)", "rgba(60,90,185,0.9)", 2.5),
    ellipse(1019, 1014, 1612, 1568, "rgba(223,117,17,0.52)", "rgba(222,95,85,0.95)", 3.5),
]

def note(text, px, py, font, xanchor="left", family="Liberation Sans", color="#000000", align="left", weight=None):
    f = dict(family=family, size=font, color=color)
    if weight:
        f["weight"] = weight
    return dict(text=text, xref="paper", yref="paper", x=fx(px), y=fy(py), xanchor=xanchor, yanchor="middle",
                showarrow=False, align=align, font=f)

annotations = [
    note("A", 1, 32, 52, family="Roboto", weight=500),
    note("B", 5, 856, 52, family="Roboto", weight=500),
    note(legend_title, 886, 326, 20.5),
    note(legend_title, 1871, 330, 20.5),
    note(venn_counts[0], 768, 1136, 53, xanchor="center"),
    note(venn_counts[1], 1136, 1248, 53, xanchor="center"),
    note(venn_counts[2], 1411, 1238, 53, xanchor="center"),
    note(venn_names[0][0], 425.5, 1221, 33.2),
    note(venn_names[0][1], 425.5, 1261, 33.2),
    note(venn_names[1][0], 1261, 1323, 33.2),
    note(venn_names[1][1], 1261, 1362, 33.2),
]

fig.update_layout(
    width=W, height=H, autosize=False, margin=dict(l=0, r=0, t=0, b=0),
    paper_bgcolor="#FFFFFF", plot_bgcolor="rgba(0,0,0,0)", showlegend=False,
    xaxis=xa1, yaxis=ya1, xaxis2=xa2, yaxis2=ya2, xaxis3=xa3, yaxis3=ya3, xaxis4=xa4, yaxis4=ya4,
    shapes=shapes, annotations=annotations,
)

fig.write_html("out.html", config={"displayModeBar": False}, post_script="document.body.style.margin='0';")
